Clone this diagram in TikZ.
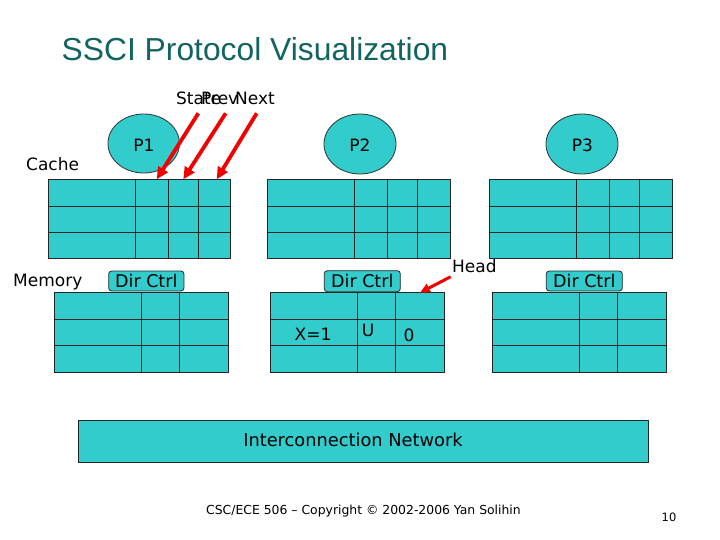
\documentclass[tikz,border=0pt]{standalone}
\usepackage{fontspec}
\setmainfont{DejaVu Sans}
\newfontfamily\titlefont{Liberation Sans}
\usetikzlibrary{arrows.meta,shapes.geometric}
\definecolor{tealfill}{RGB}{51,204,204}
\definecolor{titleteal}{RGB}{18,100,96}
\definecolor{arrred}{RGB}{240,0,0}
\tikzset{
  cell/.style={draw=black!85, line width=1pt, fill=tealfill},
  gridline/.style={draw=black!85, line width=1pt},
  proc/.style={ellipse, draw=black!80, line width=0.8pt, fill=tealfill, inner sep=0pt},
  dirbox/.style={draw=black!85, line width=0.8pt, fill=tealfill, rounded corners=3pt, inner sep=0pt},
  lbl/.style={font=\fontsize{17}{20}\selectfont, inner sep=0pt},
  redarrow/.style={draw=arrred, line width=3.8pt, -{Triangle[length=12pt,width=11pt]}},
}
\begin{document}
\begin{tikzpicture}[x=1pt,y=-1pt]
\useasboundingbox (0,0) rectangle (720,540);
\fill[white] (0,0) rectangle (720,540);

% title
\node[anchor=base west, inner sep=0pt, text=titleteal, font=\titlefont\fontsize{31.8}{36}\selectfont] (title) at (61.5,60.5) {SSCI Protocol Visualization};

% labels
\node[lbl, anchor=west] (cachelbl) at (26,164) {Cache};
\node[lbl, anchor=west] (memlbl) at (13,282) {Memory};

% cache 1
\path[cell] (48,180) rectangle (230,258);
\draw[gridline] (48,206.7) -- (230,206.7) (48,232.7) -- (230,232.7)
  (135.3,180) -- (135.3,258) (168.7,180) -- (168.7,258) (198.7,180) -- (198.7,258);
% cache 2
\path[cell] (267.3,180) rectangle (450.7,258);
\draw[gridline] (267.3,206.7) -- (450.7,206.7) (267.3,232.7) -- (450.7,232.7)
  (354.3,180) -- (354.3,258) (387.3,180) -- (387.3,258) (417.3,180) -- (417.3,258);
% cache 3
\path[cell] (489.3,180) rectangle (672.3,258);
\draw[gridline] (489.3,206.7) -- (672.3,206.7) (489.3,232.7) -- (672.3,232.7)
  (576.7,180) -- (576.7,258) (609.3,180) -- (609.3,258) (639.3,180) -- (639.3,258);

% memory 1
\path[cell] (54.3,292.3) rectangle (228.3,372.3);
\draw[gridline] (54.3,319.3) -- (228.3,319.3) (54.3,345.5) -- (228.3,345.5)
  (141.3,292.3) -- (141.3,372.3) (179.3,292.3) -- (179.3,372.3);
% memory 2
\path[cell] (270.7,292.3) rectangle (444.3,372.3);
\draw[gridline] (270.7,319.3) -- (444.3,319.3) (270.7,345.5) -- (444.3,345.5)
  (357.3,292.3) -- (357.3,372.3) (395.3,292.3) -- (395.3,372.3);
% memory 3
\path[cell] (492.3,292.3) rectangle (666,372.3);
\draw[gridline] (492.3,319.3) -- (666,319.3) (492.3,345.5) -- (666,345.5)
  (579.3,292.3) -- (579.3,372.3) (617.3,292.3) -- (617.3,372.3);

% memory contents
\node[lbl, anchor=center] (x1) at (313,334) {X=1};
\node[lbl, anchor=center] (u) at (368,330) {U};
\node[lbl, anchor=center] (zero) at (409,335) {0};

% processors
\node[proc, minimum width=71.5pt, minimum height=59pt] (p1) at (143.7,143.5) {};
\node[lbl] at (144,145) {P1};
\node[proc, minimum width=72pt, minimum height=60pt] (p2) at (360,144) {};
\node[lbl] at (360,145) {P2};
\node[proc, minimum width=72pt, minimum height=60pt] (p3) at (582,144) {};
\node[lbl] at (582.5,145) {P3};

% dir ctrl boxes
\node[dirbox, minimum width=75.3pt, minimum height=20pt, font=\fontsize{17.5}{20}\selectfont] (dc1) at (146.3,281) {Dir Ctrl};
\node[dirbox, minimum width=76pt, minimum height=21pt, font=\fontsize{17.5}{20}\selectfont] (dc2) at (362.3,281.2) {Dir Ctrl};
\node[dirbox, minimum width=76pt, minimum height=20pt, font=\fontsize{17.5}{20}\selectfont] (dc3) at (584.3,281) {Dir Ctrl};

% interconnection network
\node[draw=black!85, line width=1pt, fill=tealfill, minimum width=570.4pt, minimum height=41.6pt, inner sep=0pt] (net) at (363.5,441.5) {};
\node[lbl, font=\fontsize{17.8}{20}\selectfont] (netlbl) at (353,440) {Interconnection Network};

% State / Prev / Next labels
\node[lbl, anchor=base west] (state) at (176,105) {State};
\node[lbl, anchor=base west] (prev) at (201,105) {Prev};
\node[lbl, anchor=base west] (next) at (235,105) {Next};

% arrow endpoints
\coordinate (a1s) at (198.3,113.3);
\coordinate (a1e) at (156.7,179.3);
\coordinate (a2s) at (225.7,113.3);
\coordinate (a2e) at (183.3,179.3);
\coordinate (a3s) at (256.7,113.3);
\coordinate (a3e) at (216.7,179.3);
\draw[redarrow] (a1s) -- (a1e);
\draw[redarrow] (a2s) -- (a2e);
\draw[redarrow] (a3s) -- (a3e);

% Head
\node[lbl, anchor=west] (head) at (452,266) {Head};
\coordinate (hs) at (450.7,276.7);
\coordinate (he) at (420,292.7);
\draw[redarrow, line width=3pt, -{Triangle[length=10pt,width=9pt]}] (hs) -- (he);

% footer
\node[inner sep=0pt, font=\fontsize{12.4}{15}\selectfont] (footer) at (363.5,511) {CSC/ECE 506 -- Copyright \textcopyright{} 2002-2006 Yan Solihin};
\node[inner sep=0pt, font=\fontsize{11.5}{14}\selectfont] (pagenum) at (669,517) {10};
\end{tikzpicture}
\end{document}
